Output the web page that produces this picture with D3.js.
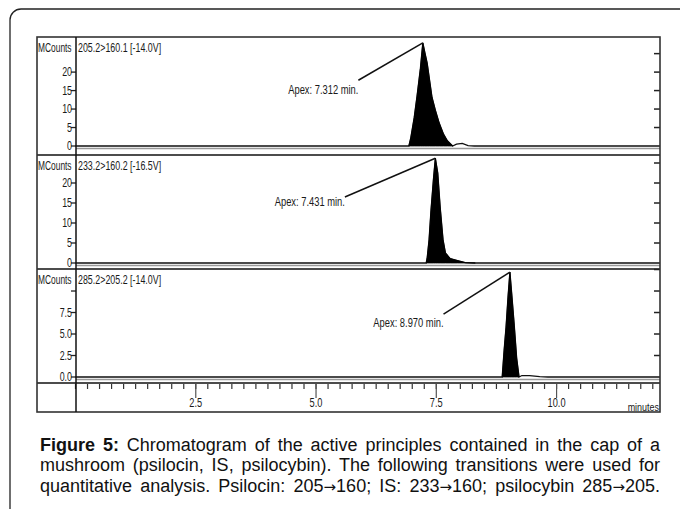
<!DOCTYPE html>
<html>
<head>
<meta charset="utf-8">
<script src="https://cdn.jsdelivr.net/npm/d3@7"></script>
<style>
  body { margin: 0; background: #fff; }
  svg { display: block; font-family: "Liberation Sans", Arial, sans-serif; }
</style>
</head>
<body>
<svg id="chart"></svg>
<script>
// Chromatogram, three MRM transitions (MCounts vs minutes)

const panelLabels = ["205.2>160.1 [-14.0V]", "233.2>160.2 [-16.5V]", "285.2>205.2 [-14.0V]"];
const apexLabels = ["Apex: 7.312 min.", "Apex: 7.431 min.", "Apex: 8.970 min."];

// y extent of each panel (MCounts at the top edge)
const panelMax = [29.5, 27, 12.56];

// left / right ticks
const leftTicks = [[0, 5, 10, 15, 20], [0, 5, 10, 15, 20], [0, 2.5, 5, 7.5, 10]];
const leftTickText = [["0", "5", "10", "15", "20"], ["0", "5", "10", "15", "20"], ["0.0", "2.5", "5.0", "7.5", ""]];
const rightTicks = [[5, 10, 15, 20, 25], [5, 10, 15, 20, 25], [2.5, 5, 7.5, 10, 12.5]];

// peaks [minutes, MCounts] (filled)
const peak1 = [[6.93, 0], [6.97, 2.2], [7.04, 7.6], [7.1, 13.5], [7.17, 21], [7.22, 27.9], [7.26, 25.4],
    [7.31, 22.4], [7.36, 17.8], [7.41, 13.2], [7.48, 9.7], [7.56, 6.2], [7.65, 3.2], [7.73, 1.4], [7.84, 0]];
const peak2 = [[7.29, 0], [7.31, 1.2], [7.35, 5.8], [7.39, 13.2], [7.44, 20.8], [7.48, 26.2], [7.53, 22.5],
    [7.58, 14], [7.64, 5.8], [7.69, 2.5], [7.79, 1.1], [7.94, 0.6], [8.1, 0.1], [8.31, 0]];
const peak3 = [[8.87, 0], [8.91, 3.1], [8.95, 5.8], [8.99, 9.2], [9.03, 12.2], [9.07, 9.5], [9.12, 6.0],
    [9.17, 2.2], [9.22, 0]];

// small bumps after the peaks (line only)
const tail1 = [[7.84, 0], [7.92, 0.5], [8.04, 0.7], [8.16, 0.1], [8.29, 0]];
const tail2 = [[8.31, 0], [12.15, 0]];
const tail3 = [[9.22, 0], [9.28, 0.17], [9.44, 0.17], [9.65, 0.05], [9.82, 0]];

// apex annotation: [text end minutes, text baseline MCounts, leader start MCounts]
const apexNote = [[5.88, 14, 17.8], [5.6, 14.2, 16.5], [7.65, 5.8, 7.3]];

const xTicksMajor = [2.5, 5.0, 7.5, 10.0];
const xTickText = ["2.5", "5.0", "7.5", "10.0"];

const captionLines = [
    "Chromatogram of the active principles contained in the cap of a",
    "mushroom (psilocin, IS, psilocybin). The following transitions were used for",
    "quantitative analysis. Psilocin: 205\u2192160; IS: 233\u2192160; psilocybin 285\u2192205."
];

const peaks = [peak1, peak2, peak3];
const tails = [tail1, tail2, tail3];

const W = 680, H = 509;
const frame = { left: 37, right: 660, top: 37, bottom: 412 };
const axisX = 76;
const panelTops = [37, 155, 269, 383];
const panelZero = [146, 263, 377];

const svg = d3.select("#chart").attr("width", W).attr("height", H);

// outer rounded box
svg.append("rect")
    .attr("x", 10).attr("y", 9)
    .attr("width", 720).attr("height", 560)
    .attr("rx", 11)
    .attr("fill", "none")
    .attr("stroke", "#222")
    .attr("stroke-width", 1.3);

const x = d3.scaleLinear().domain([0, 12.15]).range([75.5, frame.right]);

function narrow(g, px, py, str, size, anchor, sx = 0.74) {
    return g.append("text")
        .attr("transform", `translate(${px},${py}) scale(${sx},1)`)
        .attr("text-anchor", anchor)
        .attr("fill", "#1a1a1a")
        .style("font-size", size + "px")
        .text(str);
}

const chart = svg.append("g");

peaks.forEach((peak, i) => {
    const y = d3.scaleLinear().domain([0, panelMax[i]]).range([panelZero[i], panelTops[i]]);
    const g = chart.append("g");

    // grey shadow under baseline
    g.append("line")
        .attr("x1", axisX).attr("x2", frame.right)
        .attr("y1", y(0) + 2.5).attr("y2", y(0) + 2.5)
        .attr("stroke", "#999").attr("stroke-width", 1.6);

    // full trace
    const trace = [[0, 0]].concat(peak, tails[i], [[12.15, 0]]);
    g.append("path")
        .datum(trace)
        .attr("fill", "none")
        .attr("stroke", "#111")
        .attr("stroke-width", 1.3)
        .attr("d", d3.line().x(d => x(d[0])).y(d => y(d[1])));

    // filled peak
    g.append("path")
        .datum(peak)
        .attr("fill", "#000")
        .attr("stroke", "#000")
        .attr("stroke-width", 0.8)
        .attr("d", d3.area().x(d => x(d[0])).y0(y(0)).y1(d => y(d[1])));

    // left ticks
    leftTicks[i].forEach((v, k) => {
        g.append("line")
            .attr("x1", axisX - 5).attr("x2", axisX)
            .attr("y1", y(v)).attr("y2", y(v))
            .attr("stroke", "#222").attr("stroke-width", 1.3);
        narrow(g, axisX - 4, y(v) + 4, leftTickText[i][k], 12, "end");
    });

    // right ticks
    rightTicks[i].forEach(v => {
        g.append("line")
            .attr("x1", frame.right - 6).attr("x2", frame.right)
            .attr("y1", y(v)).attr("y2", y(v))
            .attr("stroke", "#222").attr("stroke-width", 1.5);
    });

    // labels
    narrow(g, frame.left + 1, panelTops[i] + 15, "MCounts", 12, "start", 0.7);
    narrow(g, axisX + 2, panelTops[i] + 15, panelLabels[i], 12, "start", 0.74);

    // apex annotation
    const apex = peak.reduce((a, b) => (b[1] > a[1] ? b : a));
    const note = apexNote[i];
    g.append("line")
        .attr("x1", x(note[0])).attr("y1", y(note[2]))
        .attr("x2", x(apex[0])).attr("y2", y(apex[1]))
        .attr("stroke", "#111").attr("stroke-width", 1.5);
    narrow(g, x(note[0]), y(note[1]), apexLabels[i], 13, "end", 0.72);

    // panel separator
    g.append("line")
        .attr("x1", frame.left).attr("x2", frame.right)
        .attr("y1", panelTops[i + 1]).attr("y2", panelTops[i + 1])
        .attr("stroke", "#111").attr("stroke-width", 1.6);
});

// x axis ticks
const xAxisG = chart.append("g");
d3.range(0, 12.01, 0.25).forEach(t => {
    xAxisG.append("line")
        .attr("x1", x(t)).attr("x2", x(t))
        .attr("y1", 384).attr("y2", 389)
        .attr("stroke", "#333").attr("stroke-width", 1.2);
});
xTicksMajor.forEach((t, k) => {
    xAxisG.append("line")
        .attr("x1", x(t)).attr("x2", x(t))
        .attr("y1", 384).attr("y2", 398)
        .attr("stroke", "#555").attr("stroke-width", 1.2);
    narrow(xAxisG, x(t), 407, xTickText[k], 12.5, "middle");
});
narrow(xAxisG, frame.right - 1, 411, "minutes", 11.5, "end", 0.78);

// frame and y axis
chart.append("rect")
    .attr("x", frame.left).attr("y", frame.top)
    .attr("width", frame.right - frame.left).attr("height", frame.bottom - frame.top)
    .attr("fill", "none").attr("stroke", "#333").attr("stroke-width", 1.6);
chart.append("line")
    .attr("x1", axisX).attr("x2", axisX)
    .attr("y1", frame.top).attr("y2", frame.bottom)
    .attr("stroke", "#111").attr("stroke-width", 1.5);

// caption, justified between 40 and 660
const capY = [451, 471, 492];
captionLines.forEach((line, i) => {
    const t = svg.append("text")
        .attr("x", 40).attr("y", capY[i])
        .attr("fill", "#111")
        .style("font-size", "18px");
    if (i === 0) {
        t.append("tspan").style("font-weight", "bold").text("Figure 5:");
        line = " " + line;
    }
    line.split("\u2192").forEach((part, k) => {
        if (k > 0) {
            t.append("tspan")
                .style("font-family", "'DejaVu Sans', sans-serif")
                .style("font-size", "15px")
                .text("\u2192");
        }
        t.append("tspan").text(part);
    });
    const len = t.node().getComputedTextLength();
    const spaces = (t.node().textContent.match(/ /g) || []).length;
    const extra = (620 - len) / spaces;
    t.style("word-spacing", extra + "px");
});
</script>
</body>
</html>
